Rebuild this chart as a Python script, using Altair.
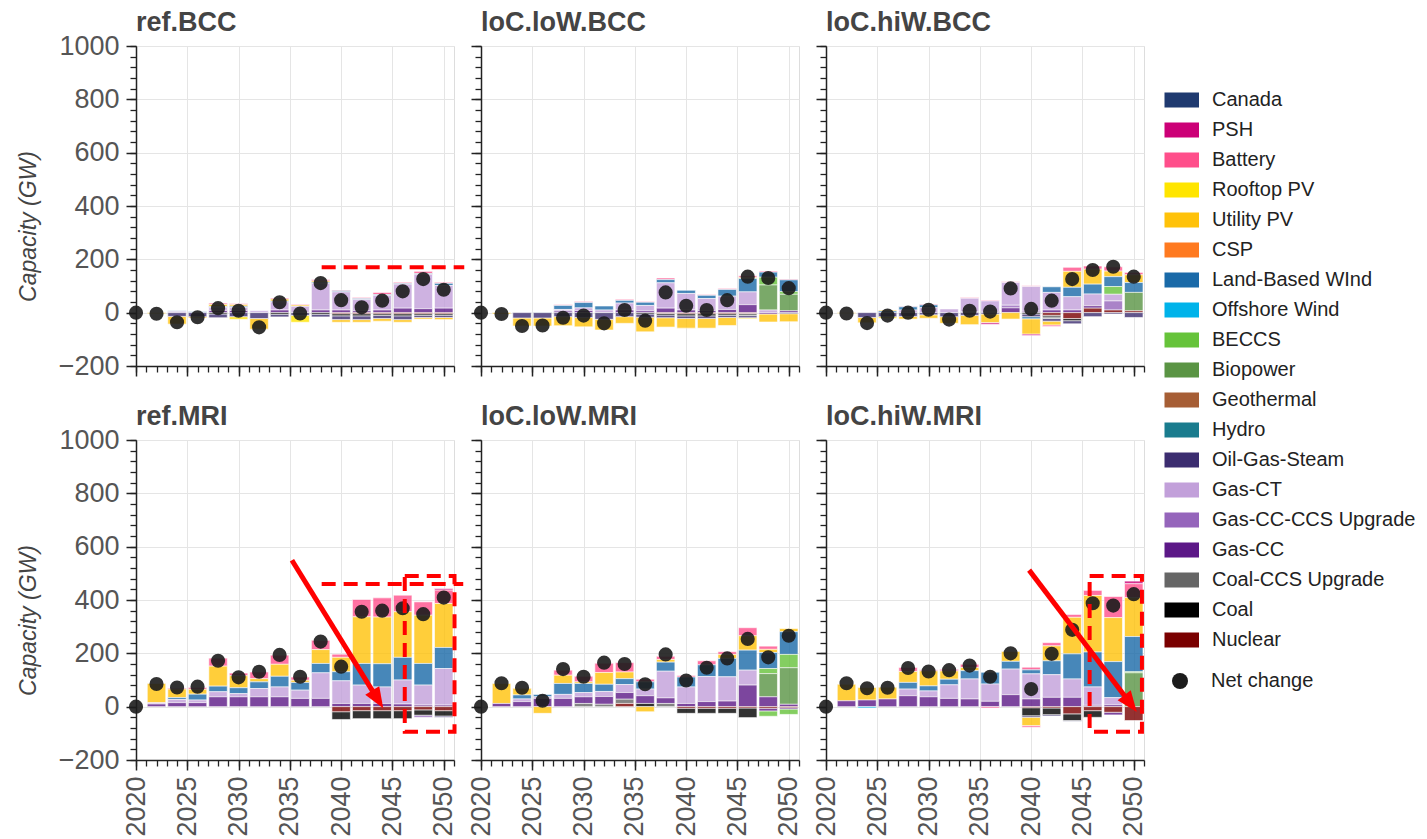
import math
import altair as alt
import pandas as pd

FONT = "Liberation Sans"

TECHS = ["Canada", "PSH", "Battery", "Rooftop PV", "Utility PV", "CSP",
         "Land-Based WInd", "Offshore Wind", "BECCS", "Biopower", "Geothermal",
         "Hydro", "Oil-Gas-Steam", "Gas-CT", "Gas-CC-CCS Upgrade", "Gas-CC",
         "Coal-CCS Upgrade", "Coal", "Nuclear"]
COLORS = ["#1f3a70", "#cc0077", "#ff4f8b", "#ffe500", "#ffc20a", "#ff7a20",
          "#1a6aa8", "#00b3ea", "#66c33a", "#5a9444", "#a65e35",
          "#1a7c8e", "#3c2d70", "#c2a0da", "#9565bb", "#5c1887",
          "#666666", "#000000", "#7a0000"]

PANELS = ["ref.BCC", "loC.loW.BCC", "loC.hiW.BCC", "ref.MRI", "loC.loW.MRI", "loC.hiW.MRI"]
BAR_YEARS = [2022, 2024, 2026, 2028, 2030, 2032, 2034, 2036, 2038, 2040, 2042, 2044, 2046, 2048, 2050]
NET_YEARS = [2020] + BAR_YEARS

# ---------------- capacity additions (GW) ----------------
REF_BCC_GAIN = {
    "Battery":         [0, 0, 0, 5, 4, 0, 4, 3, 5, 3, 4, 8, 4, 8, 4],
    "Utility PV":      [0, 0, 0, 8, 6, 0, 8, 5, 5, 0, 0, 0, 0, 0, 0],
    "Land-Based WInd": [0, 2, 3, 3, 4, 0, 3, 0, 4, 4, 4, 3, 3, 0, 8],
    "Hydro":           [0, 0, 0, 0, 0, 0, 0, 0, 0, 0, 0, 0, 0, 3, 0],
    "Gas-CT":          [0, 5, 0, 12, 12, 7, 30, 24, 100, 68, 42, 55, 90, 129, 85],
    "Gas-CC":          [0, 0, 0, 8, 8, 0, 10, 0, 10, 10, 7, 10, 17, 15, 17],
}
REF_BCC_LOSS = {
    "Rooftop PV":      [0, 0, 0, 0, -10, 0, 0, -26, 0, 0, 0, 0, 0, 0, 0],
    "Utility PV":      [-4, -29, -5, 0, 0, -40, 0, 0, 0, -10, -10, -10, -10, -6, -8],
    "Oil-Gas-Steam":   [0, -14, -15, -14, -15, -22, -10, -10, -10, -14, -14, -12, -14, -8, -8],
    "Coal":            [0, 0, 0, -5, 0, 0, -6, 0, -6, -8, -8, -6, -8, -6, -6],
    "Nuclear":         [0, 0, 0, 0, 0, 0, 0, 0, 0, -4, -4, -4, -4, -4, -4],
}
REF_BCC_NET = [0, -4, -36, -17, 17, 7, -55, 39, -3, 111, 47, 20, 45, 80, 126, 86]

LOC_LOW_BCC_GAIN = {
    "Battery":         [0, 0, 0, 3, 4, 0, 4, 3, 6, 0, 3, 4, 6, 4, 3],
    "Utility PV":      [0, 0, 0, 0, 0, 0, 0, 0, 0, 0, 0, 0, 4, 0, 0],
    "Land-Based WInd": [0, 0, 2, 15, 20, 15, 10, 12, 12, 12, 12, 25, 50, 19, 44],
    "BECCS":           [0, 0, 0, 0, 0, 0, 0, 0, 0, 0, 0, 0, 0, 29, 10],
    "Biopower":        [0, 0, 0, 0, 0, 0, 0, 0, 0, 0, 0, 0, 0, 94, 62],
    "Gas-CT":          [0, 2, 0, 6, 10, 10, 26, 20, 95, 62, 45, 50, 48, 10, 0],
    "Gas-CC":          [0, 0, 0, 6, 8, 0, 10, 7, 17, 10, 8, 12, 30, 0, 7],
}
LOC_LOW_BCC_LOSS = {
    "Rooftop PV":       [0, 0, 0, 0, 0, 0, 0, 0, 0, 0, 0, 0, -4, 0, 0],
    "Utility PV":       [-5, -30, -30, -34, -35, -40, -25, -55, -35, -36, -36, -30, 0, -30, -30],
    "Oil-Gas-Steam":    [0, -20, -20, -15, -18, -25, -15, -12, -10, -10, -10, -8, -8, 0, -4],
    "Gas-CC":           [0, 0, 0, 0, 0, 0, 0, 0, 0, 0, 0, 0, 0, -5, 0],
    "Coal-CCS Upgrade": [0, 0, 0, 0, 0, 0, 0, 0, 0, 0, 0, 0, -8, 0, 0],
    "Coal":             [0, 0, 0, 0, 0, 0, 0, -5, -6, -8, -8, -6, 0, 0, 0],
    "Nuclear":          [0, 0, 0, 0, 0, 0, 0, 0, -3, -4, -4, -4, -3, 0, 0],
}
LOC_LOW_BCC_NET = [0, -5, -50, -48, -19, -11, -40, 10, -30, 76, 26, 10, 47, 135, 130, 92]

LOC_HIW_BCC_GAIN = {
    "Battery":            [0, 0, 0, 2, 3, 0, 3, 3, 3, 3, 0, 15, 12, 16, 9],
    "Utility PV":         [0, 0, 4, 0, 0, 0, 0, 0, 0, 0, 0, 60, 56, 21, 29],
    "Land-Based WInd":    [0, 0, 6, 12, 10, 0, 0, 0, 0, 0, 21, 35, 37, 37, 37],
    "BECCS":              [0, 0, 0, 0, 0, 0, 0, 0, 0, 0, 0, 0, 0, 29, 0],
    "Biopower":           [0, 0, 0, 0, 0, 0, 0, 0, 0, 0, 0, 0, 0, 0, 69],
    "Gas-CT":             [0, 0, 0, 10, 19, 14, 50, 40, 85, 93, 66, 50, 44, 25, 0],
    "Gas-CC-CCS Upgrade": [0, 0, 0, 0, 0, 0, 4, 0, 10, 0, 0, 0, 0, 34, 0],
    "Gas-CC":             [0, 0, 0, 0, 0, 0, 0, 4, 18, 5, 10, 10, 9, 0, 0],
    "Nuclear":            [0, 0, 0, 0, 0, 0, 0, 0, 0, 0, 0, 0, 17, 10, 7],
}
LOC_HIW_BCC_LOSS = {
    "PSH":              [0, 0, 0, 0, 0, 0, 0, -6, 0, -6, 0, 0, 0, 0, 0],
    "Battery":          [0, 0, 0, 0, 0, 0, 0, 0, 0, 0, -6, 0, 0, 0, 0],
    "Rooftop PV":       [0, 0, -6, 0, 0, 0, 0, 0, 0, 0, 0, 0, 0, 0, 0],
    "Utility PV":       [-3, -20, 0, -10, -13, -25, -35, -32, -24, -57, -14, 0, 0, 0, 0],
    "Land-Based WInd":  [0, 0, 0, 0, 0, 0, 0, 0, 0, -8, 0, 0, 0, 0, 0],
    "Oil-Gas-Steam":    [0, -18, -15, -14, -8, -15, -10, -5, 0, -10, -10, -12, -15, -5, -18],
    "Coal-CCS Upgrade": [0, 0, 0, 0, 0, 0, 0, 0, 0, 0, -6, 0, 0, 0, 0],
    "Coal":             [0, 0, 0, 0, 0, 0, 0, 0, 0, -5, -6, -8, 0, 0, 0],
    "Nuclear":          [0, 0, 0, 0, 0, 0, 0, 0, 0, 0, -10, -22, 0, 0, 0],
}
LOC_HIW_BCC_NET = [0, -3, -39, -11, 0, 11, -26, 7, 4, 91, 14, 45, 126, 160, 172, 135]

REF_MRI_GAIN = {
    "PSH":             [0, 0, 0, 0, 0, 0, 0, 0, 0, 0, 0, 0, 0, 0, 6],
    "Battery":         [0, 4, 7, 30, 10, 25, 34, 12, 35, 12, 65, 72, 62, 50, 50],
    "Utility PV":      [72, 32, 18, 75, 45, 12, 45, 8, 52, 54, 175, 175, 171, 181, 165],
    "Land-Based WInd": [0, 7, 22, 21, 22, 25, 40, 29, 35, 34, 81, 87, 85, 81, 79],
    "Gas-CT":          [5, 12, 10, 19, 12, 31, 37, 31, 96, 85, 69, 62, 90, 75, 137],
    "Gas-CC":          [10, 15, 15, 37, 37, 37, 37, 31, 31, 12, 12, 12, 10, 6, 6],
}
REF_MRI_LOSS = {
    "Oil-Gas-Steam":      [0, 0, 0, 0, 0, 0, 0, 0, 0, 0, 0, 0, 0, 0, -5],
    "Gas-CC-CCS Upgrade": [0, 0, 0, 0, 0, 0, 0, 0, 0, 0, 0, 0, 0, -8, 0],
    "Coal":               [0, 0, 0, 0, 0, 0, 0, 0, 0, -29, -30, -30, -30, -20, -20],
    "Nuclear":            [0, 0, 0, 0, 0, 0, 0, 0, 0, -19, -15, -15, -15, -12, -15],
}
REF_MRI_NET = [0, 85, 72, 75, 172, 110, 131, 194, 112, 244, 150, 356, 360, 369, 347, 409]

LOC_LOW_MRI_GAIN = {
    "Battery":          [0, 0, 0, 19, 21, 35, 35, 10, 12, 6, 15, 10, 30, 12, 0],
    "Utility PV":       [75, 25, 0, 31, 6, 44, 25, 0, 10, 0, 0, 15, 54, 12, 12],
    "Land-Based WInd":  [0, 15, 9, 41, 34, 27, 22, 27, 34, 37, 44, 69, 75, 60, 85],
    "BECCS":            [0, 0, 0, 0, 0, 0, 0, 0, 0, 0, 0, 0, 0, 19, 50],
    "Biopower":         [0, 0, 0, 0, 0, 0, 0, 0, 0, 0, 0, 0, 0, 87, 137],
    "Gas-CT":           [0, 10, 6, 15, 16, 19, 30, 25, 100, 62, 94, 91, 56, 0, 0],
    "Gas-CC":           [12, 19, 31, 31, 25, 29, 25, 29, 21, 12, 19, 21, 81, 37, 9],
    "Coal-CCS Upgrade": [0, 0, 0, 0, 12, 9, 16, 0, 12, 0, 0, 0, 0, 0, 0],
    "Coal":             [0, 0, 0, 0, 0, 0, 0, 12, 0, 0, 0, 0, 0, 0, 0],
    "Nuclear":          [0, 0, 0, 0, 0, 0, 12, 0, 0, 0, 0, 0, 0, 0, 0],
}
LOC_LOW_MRI_LOSS = {
    "Utility PV": [0, 0, -25, 0, 0, 0, 0, -19, 0, 0, 0, 0, 0, 0, 0],
    "BECCS":      [0, 0, 0, 0, 0, 0, 0, 0, 0, 0, 0, 0, 0, -20, -20],
    "Gas-CC":     [0, 0, 0, 0, 0, 0, 0, 0, 0, 0, 0, 0, 0, -10, -5],
    "Coal":       [0, 0, 0, 0, 0, 0, 0, 0, 0, -19, -19, -19, -36, 0, 0],
    "Nuclear":    [0, 0, 0, 0, 0, 0, 0, 0, 0, -6, -6, -6, -5, -6, -4],
}
LOC_LOW_MRI_NET = [0, 88, 71, 22, 141, 112, 165, 160, 84, 196, 98, 146, 181, 254, 185, 266]

LOC_HIW_MRI_GAIN = {
    "PSH":             [0, 0, 0, 0, 0, 0, 0, 0, 0, 0, 0, 0, 0, 0, 10],
    "Battery":         [0, 0, 0, 15, 4, 6, 12, 0, 0, 10, 12, 11, 19, 79, 52],
    "Utility PV":      [62, 47, 44, 41, 56, 31, 12, 0, 37, 0, 56, 137, 212, 165, 146],
    "Land-Based WInd": [0, 0, 0, 25, 19, 21, 31, 44, 29, 15, 52, 94, 131, 135, 132],
    "BECCS":           [0, 0, 0, 0, 0, 0, 0, 0, 0, 0, 0, 0, 0, 0, 4],
    "Biopower":        [0, 0, 0, 0, 0, 0, 0, 0, 0, 0, 0, 0, 0, 0, 127],
    "Gas-CT":          [0, 0, 0, 25, 22, 51, 75, 65, 96, 94, 85, 69, 69, 27, 0],
    "Gas-CC":          [22, 25, 29, 41, 37, 31, 29, 20, 45, 29, 35, 35, 5, 7, 0],
}
LOC_HIW_MRI_LOSS = {
    "Battery":       [0, 0, 0, 0, 0, 0, 0, -5, 0, -6, 0, 0, 0, 0, 0],
    "Utility PV":    [0, 0, 0, 0, 0, 0, 0, 0, 0, -31, 0, 0, 0, 0, 0],
    "Offshore Wind": [0, -5, 0, 0, 0, 0, 0, 0, 0, 0, 0, 0, 0, 0, 0],
    "Oil-Gas-Steam": [0, 0, 0, 0, 0, 0, 0, 0, 0, -6, -5, -3, 0, 0, 0],
    "Gas-CC":        [0, 0, 0, 0, 0, 0, 0, 0, 0, 0, 0, 0, 0, -10, 0],
    "Coal":          [0, 0, 0, 0, 0, 0, 0, 0, 0, -30, -25, -25, -25, 0, 0],
    "Nuclear":       [0, 0, 0, 0, 0, 0, 0, 0, 0, -4, -5, -27, -15, -21, -52],
}
LOC_HIW_MRI_NET = [0, 88, 69, 71, 145, 132, 137, 154, 112, 200, 66, 198, 288, 388, 379, 422]

GAINS = [REF_BCC_GAIN, LOC_LOW_BCC_GAIN, LOC_HIW_BCC_GAIN, REF_MRI_GAIN, LOC_LOW_MRI_GAIN, LOC_HIW_MRI_GAIN]
LOSSES = [REF_BCC_LOSS, LOC_LOW_BCC_LOSS, LOC_HIW_BCC_LOSS, REF_MRI_LOSS, LOC_LOW_MRI_LOSS, LOC_HIW_MRI_LOSS]
NETS = [REF_BCC_NET, LOC_LOW_BCC_NET, LOC_HIW_BCC_NET, REF_MRI_NET, LOC_LOW_MRI_NET, LOC_HIW_MRI_NET]

# ---------------- highlight annotations (data units) ----------------
DASH_PANEL = ["ref.BCC", "ref.MRI"]
DASH_Y = [170, 460]
DASH_X1 = [2038.1, 2038.1]
DASH_X2 = [2052.0, 2051.9]

BOX_PANEL = ["ref.MRI", "loC.hiW.MRI"]
BOX_X1 = [2046.2, 2045.7]
BOX_X2 = [2051.05, 2050.8]
BOX_Y1 = [-94, -94]
BOX_Y2 = [490, 490]

ARROW_PANEL = ["ref.MRI", "loC.hiW.MRI"]
ARROW_X1 = [2035.2, 2039.8]
ARROW_Y1 = [549, 512]
ARROW_X2 = [2044.1, 2050.3]
ARROW_Y2 = [-6, -20]

# ---------------- layout ----------------
W, H = 318, 320
X_DOM = [2020, 2051]
Y_DOM = [-200, 1000]
PX_YEAR = W / (X_DOM[1] - X_DOM[0])
PX_GW = H / (Y_DOM[1] - Y_DOM[0])

rows = []
for name, gain, loss in zip(PANELS, GAINS, LOSSES):
    for d in (gain, loss):
        for tech, vals in d.items():
            for yr, v in zip(BAR_YEARS, vals):
                if v != 0:
                    rows.append({"panel": name, "year": yr, "tech": tech, "value": v,
                                 "stack_idx": len(TECHS) - 1 - TECHS.index(tech)})
bars_df = pd.DataFrame(rows)

net_rows = []
for name, net in zip(PANELS, NETS):
    for yr, v in zip(NET_YEARS, net):
        net_rows.append({"panel": name, "year": yr, "net": v, "series": "Net change"})
net_df = pd.DataFrame(net_rows)

dash_df = pd.DataFrame({"panel": DASH_PANEL, "y": DASH_Y, "x1": DASH_X1, "x2": DASH_X2})
box_df = pd.DataFrame({"panel": BOX_PANEL, "x1": BOX_X1, "x2": BOX_X2, "y1": BOX_Y1, "y2": BOX_Y2})
arr = []
for p, x1, y1, x2, y2 in zip(ARROW_PANEL, ARROW_X1, ARROW_Y1, ARROW_X2, ARROW_Y2):
    dxp = (x2 - x1) * PX_YEAR
    dyp = -(y2 - y1) * PX_GW
    length = math.hypot(dxp, dyp)
    frac = 1 - 14 / length
    arr.append({"panel": p, "x1": x1, "y1": y1, "x2": x2, "y2": y2,
                "lx": x1 + (x2 - x1) * frac, "ly": y1 + (y2 - y1) * frac,
                "angle": math.degrees(math.atan2(dxp, -dyp))})
arrow_df = pd.DataFrame(arr)

XS = alt.Scale(domain=X_DOM, nice=False, zero=False)
YS = alt.Scale(domain=Y_DOM, nice=False, zero=False)

color_legend = alt.Legend(
    orient="none", legendX=1026, legendY=44, title=None, padding=0,
    symbolType="M-1,-1H3.6V1H-1Z", symbolSize=225, symbolStrokeWidth=0,
    symbolOpacity=1, labelFontSize=20, labelFont=FONT, labelColor="#222",
    labelOffset=30, labelLimit=400, rowPadding=10)
shape_legend = alt.Legend(
    orient="none", legendX=1034, legendY=625, title=None, padding=0,
    symbolSize=256, symbolFillColor="#2a2a2a", symbolStrokeWidth=0, symbolOpacity=1,
    labelFontSize=20, labelFont=FONT, labelColor="#222", labelOffset=21, labelLimit=400)

AX_COMMON = dict(tickColor="#222", tickWidth=1.5, domainColor="#222", domainWidth=1.5,
                 labelFont=FONT, labelFontSize=27, labelColor="#555",
                 gridColor="#e5e5e5", gridWidth=1, labelFlush=False, labelOverlap=False, format="d")


def x_major(show):
    return alt.Axis(values=list(range(2020, 2051, 5)), grid=True, tickSize=10, labels=show,
                    labelAngle=-90, labelPadding=6, title=None, orient="bottom", **AX_COMMON)


def y_major(show):
    kw = dict(values=list(range(-200, 1001, 200)), grid=True, tickSize=10, labels=show,
              labelPadding=7, orient="left", **AX_COMMON)
    if show:
        kw.update(title="Capacity (GW)", titleFont=FONT, titleFontSize=23, titleFontStyle="italic",
                  titleFontWeight="normal", titleColor="#444", titleAngle=270,
                  titleBaseline="middle", titleAlign="center", titleX=-108, titleY=180)
    else:
        kw.update(title=None)
    return alt.Axis(**kw)


X_MINOR = alt.Axis(values=list(range(2020, 2052)), grid=False, domain=False, labels=False,
                   tickSize=6, tickColor="#222", tickWidth=1.3, title=None, orient="bottom")
Y_MINOR = alt.Axis(values=list(range(-200, 1001, 40)), grid=False, domain=False, labels=False,
                   tickSize=6, tickColor="#222", tickWidth=1.3, title=None, orient="left")


def panel(i, name):
    row, col = divmod(i, 3)
    bars = alt.Chart(bars_df[bars_df.panel == name]).transform_stack(
        stack="value", groupby=["year"], sort=[alt.SortField("stack_idx", order="ascending")],
        as_=["y0", "y1"]
    ).transform_calculate(
        x0="datum.year - 0.9", x1="datum.year + 0.9"
    ).mark_bar(opacity=0.8, stroke="white", strokeWidth=0.6).encode(
        x=alt.X("x0:Q", scale=XS, axis=x_major(row == 1)),
        x2="x1:Q",
        y=alt.Y("y0:Q", scale=YS, axis=y_major(col == 0)),
        y2="y1:Q",
        color=alt.Color("tech:N", scale=alt.Scale(domain=TECHS, range=COLORS), legend=color_legend),
    )
    pdata = net_df[net_df.panel == name]
    minor = alt.Chart(pdata).mark_point(opacity=0).encode(
        x=alt.X("year:Q", scale=XS, axis=X_MINOR),
        y=alt.Y("net:Q", scale=YS, axis=Y_MINOR),
    )
    pts = alt.Chart(pdata).mark_point(filled=True, size=200, opacity=0.9, color="#1c1c1c").encode(
        x=alt.X("year:Q", scale=XS, axis=None),
        y=alt.Y("net:Q", scale=YS, axis=None),
        shape=alt.Shape("series:N", scale=alt.Scale(domain=["Net change"], range=["circle"]),
                        legend=shape_legend),
    )
    layers = [minor, bars, pts]
    d = dash_df[dash_df.panel == name]
    if len(d):
        layers.append(alt.Chart(d).mark_rule(color="#ff0000", strokeWidth=4, strokeDash=[14, 8]).encode(
            x=alt.X("x1:Q", scale=XS, axis=None), x2="x2:Q", y=alt.Y("y:Q", scale=YS, axis=None)))
    b = box_df[box_df.panel == name]
    if len(b):
        layers.append(alt.Chart(b).mark_rect(fillOpacity=0, stroke="#ff0000", strokeWidth=4,
                                             strokeDash=[14, 8]).encode(
            x=alt.X("x1:Q", scale=XS, axis=None), x2="x2:Q",
            y=alt.Y("y1:Q", scale=YS, axis=None), y2="y2:Q"))
    a = arrow_df[arrow_df.panel == name]
    if len(a):
        layers.append(alt.Chart(a).mark_rule(color="#ff0000", strokeWidth=5).encode(
            x=alt.X("x1:Q", scale=XS, axis=None), x2="lx:Q",
            y=alt.Y("y1:Q", scale=YS, axis=None), y2="ly:Q"))
        layers.append(alt.Chart(a).mark_point(shape="M0,0L0.75,1.9L-0.75,1.9Z", size=484, filled=True,
                                              color="#ff0000", opacity=1).encode(
            x=alt.X("x2:Q", scale=XS, axis=None), y=alt.Y("y2:Q", scale=YS, axis=None),
            angle=alt.Angle("angle:Q", scale=None)))
    return alt.layer(*layers).resolve_axis(x="independent", y="independent").properties(
        width=W, height=H,
        title=alt.TitleParams(text=name, anchor="start", frame="group", fontSize=27, fontWeight="bold",
                              color="#444", font=FONT, offset=(-5 if col == 0 else 8)),
    )


chart = alt.concat(*[panel(i, n) for i, n in enumerate(PANELS)], columns=3,
                   spacing={"row": 74, "column": 27}, bounds="flush").properties(
    padding={"left": 8, "top": 0, "right": 0, "bottom": 0},
).configure_view(stroke="#e5e5e5", strokeWidth=1).configure(background="white")

chart.save("out.html", embed_options={"renderer": "svg", "actions": False})
